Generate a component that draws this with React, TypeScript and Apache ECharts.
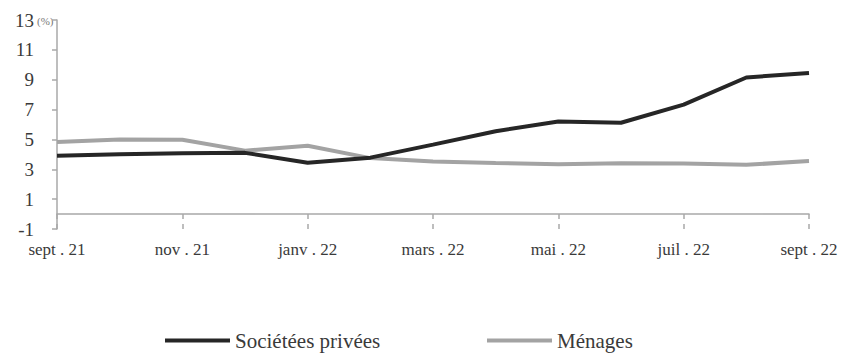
import React, { useEffect, useRef } from "react";
import * as echarts from "echarts";

// Monthly growth of credit (%), September 2021 to September 2022
const months = [
  "sept . 21", "oct . 21", "nov . 21", "déc . 21", "janv . 22", "févr . 22",
  "mars . 22", "avr . 22", "mai . 22", "juin . 22", "juil . 22", "août . 22", "sept . 22",
];
const societesPrivees = [3.9, 4.0, 4.07, 4.1, 3.44, 3.78, 4.65, 5.55, 6.2, 6.12, 7.33, 9.15, 9.45];
const menages = [4.82, 5.0, 4.98, 4.25, 4.58, 3.75, 3.52, 3.42, 3.33, 3.4, 3.38, 3.3, 3.55];
const seriesNames = ["Sociétées privées", "Ménages"];
const unitLabel = "(%)";

const FONT = "Liberation Serif";
const AXIS_COLOR = "#a8a8a8";
const TEXT_COLOR = "#3a3a3a";

export default function App() {
  const ref = useRef<HTMLDivElement>(null);

  useEffect(() => {
    if (!ref.current) return;
    const chart = echarts.init(ref.current, undefined, { renderer: "svg" });

    const baseX = {
      type: "category" as const,
      data: months,
      boundaryGap: false,
      position: "bottom" as const,
      axisLabel: { show: false },
      splitLine: { show: false },
    };

    const legendBase = {
      top: 330,
      padding: 0,
      itemWidth: 65,
      itemHeight: 4,
      itemGap: 0,
      icon: "rect",
      textStyle: { fontFamily: FONT, fontSize: 21, color: TEXT_COLOR },
    };

    chart.setOption({
      animation: false,
      backgroundColor: "#ffffff",
      textStyle: { fontFamily: FONT },
      grid: { left: 57, right: 44, top: 20, bottom: 125, containLabel: false },
      graphic: [
        {
          type: "text",
          left: 37,
          top: 15,
          style: { text: unitLabel, font: `11px ${FONT}`, fill: "#777" },
        },
      ],
      legend: [
        { ...legendBase, left: 165, data: [seriesNames[0]] },
        { ...legendBase, left: 487, data: [seriesNames[1]] },
      ],
      xAxis: [
        {
          ...baseX,
          axisLine: { show: true, onZero: true, lineStyle: { color: AXIS_COLOR, width: 1.5 } },
          axisTick: { show: true, inside: false, length: 5, interval: 1, lineStyle: { color: AXIS_COLOR, width: 1.5 } },
        },
        {
          ...baseX,
          axisLine: { show: false, onZero: true },
          axisTick: { show: true, inside: true, length: 5, interval: 1, lineStyle: { color: AXIS_COLOR, width: 1.5 } },
        },
        {
          ...baseX,
          axisLine: { show: false, onZero: false },
          axisTick: { show: false },
          axisLabel: {
            show: true,
            interval: 1,
            margin: 12,
            fontFamily: FONT,
            fontSize: 17,
            color: TEXT_COLOR,
          },
        },
      ],
      yAxis: {
        type: "value",
        min: -1,
        max: 13,
        interval: 2,
        axisLine: { show: true, lineStyle: { color: AXIS_COLOR, width: 1.5 } },
        axisTick: { show: true, length: 5, lineStyle: { color: AXIS_COLOR, width: 1.5 } },
        splitLine: { show: false },
        axisLabel: { margin: 23, fontFamily: FONT, fontSize: 19, color: TEXT_COLOR },
      },
      series: [
        {
          name: seriesNames[0],
          type: "line",
          xAxisIndex: 0,
          data: societesPrivees,
          showSymbol: false,
          symbol: "none",
          lineStyle: { color: "#262626", width: 4 },
          itemStyle: { color: "#262626" },
          z: 3,
        },
        {
          name: seriesNames[1],
          type: "line",
          xAxisIndex: 0,
          data: menages,
          showSymbol: false,
          symbol: "none",
          lineStyle: { color: "#a3a3a3", width: 4 },
          itemStyle: { color: "#a3a3a3" },
          z: 2,
        },
      ],
    });

    return () => chart.dispose();
  }, []);

  return (
    <div
      ref={ref}
      style={{ position: "fixed", left: 0, top: 0, width: 853, height: 354, background: "#fff" }}
    />
  );
}
